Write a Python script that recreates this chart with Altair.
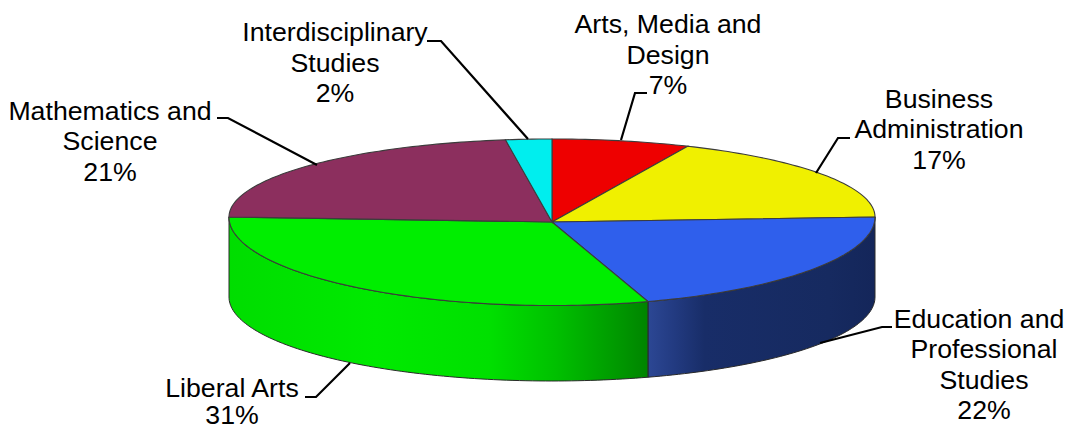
import math
import altair as alt
import pandas as pd

# ---- chart values ----
categories = ["Arts, Media and Design", "Business Administration",
              "Education and Professional Studies", "Liberal Arts",
              "Mathematics and Science", "Interdisciplinary Studies"]
printed_percent = [7, 17, 22, 31, 21, 2]
# share of the turn each wedge occupies as drawn (perspective makes these differ a little from the printed %)
drawn_share = [6.9, 18.1, 20.2, 29.8, 22.7, 2.3]
label_lines = [["Arts, Media and", "Design", "7%"],
               ["Business", "Administration", "17%"],
               ["Education and", "Professional", "Studies", "22%"],
               ["Liberal Arts", "31%"],
               ["Mathematics and", "Science", "21%"],
               ["Interdisciplinary", "Studies", "2%"]]

# ---- styling / layout, kept apart from the data ----
top_colors = ["#ee0000", "#f0f000", "#2f5fec", "#00ee00", "#8c2f5e", "#00eeee"]
CX, CY, RX, RY_UP, RY_DOWN = 552, 217, 323, 78, 88.5
APEX = (552, 222)
BOT_CY, BOT_RY = 297, 84
FONT, SIZE, LEAD = "Liberation Sans", 26.7, 30.6
label_anchor = [(668, 25), (939, 99.5), (984, 319.5), (232, 388.5), (110, 111.5), (335, 33)]
line_nudge = {"Education and": -5}  # the page's right edge ends at x = 1064
line_lift = {"31%": 3}              # keeps the last line inside the window
leaders = [[(647, 93), (635, 93), (621, 140)],
           [(850, 138), (838, 138), (816, 173)],
           [(892, 327), (882, 327), (820, 343)],
           [(305, 397), (316, 397), (350, 363)],
           [(217, 118), (228, 118), (317, 165)],
           [(427, 41), (441, 41), (528, 139)]]

X = alt.X("x:Q", scale=alt.Scale(domain=[8, 1064]), axis=None)
Y = alt.Y("y:Q", scale=alt.Scale(domain=[429, 8]), axis=None)
O = alt.Order("i:Q")


def top_pt(t):
    c = math.cos(t)
    return CX + RX * math.sin(t), CY - (RY_UP if c > 0 else RY_DOWN) * c


def low_pt(t):
    return CX + RX * math.sin(t), BOT_CY - BOT_RY * math.cos(t)


cum = [0]
for s in drawn_share:
    cum.append(cum[-1] + s)
edges = [c / cum[-1] * 2 * math.pi for c in cum]


def steps(a, b):
    n = max(3, int(abs(b - a) / 0.02))
    return [a + (b - a) * k / n for k in range(n + 1)]


def polygon(points, **style):
    df = pd.DataFrame([{"x": p[0], "y": p[1], "i": k} for k, p in enumerate(points)])
    return alt.Chart(df).mark_line(interpolate="linear-closed", **style).encode(x=X, y=Y, order=O)


def grad(stops):
    return alt.Gradient(gradient="linear", x1=0, y1=0, x2=1, y2=0,
                        stops=[alt.GradientStop(offset=o, color=c) for o, c in stops])


layers = []

# side walls: the blue and green wedges' rims facing the viewer
blue_wall = grad([(0, "#2c4794"), (0.12, "#223a80"), (0.25, "#182d68"), (0.8, "#162a60"), (1, "#14265a")])
green_wall = grad([(0, "#00dd00"), (0.35, "#00ea00"), (0.62, "#00e000"), (0.78, "#00c000"),
                   (0.93, "#009800"), (1, "#008400")])
for a, b, fill in [(edges[2], edges[3], blue_wall), (edges[3], edges[4], green_wall)]:
    ts = steps(a, b)
    pts = [top_pt(t) for t in ts] + [low_pt(t) for t in reversed(ts)]
    layers.append(polygon(pts, fill=fill, stroke="#2a2a2a", strokeWidth=1))

# top face
for k, col in enumerate(top_colors):
    pts = [APEX] + [top_pt(t) for t in steps(edges[k], edges[k + 1])]
    layers.append(polygon(pts, fill=col, stroke="#3c3c3c", strokeWidth=1.1))

# leader lines
for seg in leaders:
    df = pd.DataFrame([{"x": p[0], "y": p[1], "i": k} for k, p in enumerate(seg)])
    layers.append(alt.Chart(df).mark_line(color="black", strokeWidth=2.2).encode(x=X, y=Y, order=O))

# labels
rows = []
for (ax, ay), lines in zip(label_anchor, label_lines):
    for j, line in enumerate(lines):
        rows.append({"x": ax + line_nudge.get(line, 0),
                     "y": ay + j * LEAD - line_lift.get(line, 0), "t": line})
layers.append(alt.Chart(pd.DataFrame(rows)).mark_text(
    font=FONT, fontSize=SIZE, color="black", align="center", baseline="middle"
).encode(x=X, y=Y, text="t:N"))

chart = alt.layer(*layers).properties(
    width=1056, height=421, padding=0, background="white",
    autosize=alt.AutoSizeParams(type="none")
).configure_view(stroke=None)

chart.save("out.html", embed_options={"renderer": "svg", "actions": False})
